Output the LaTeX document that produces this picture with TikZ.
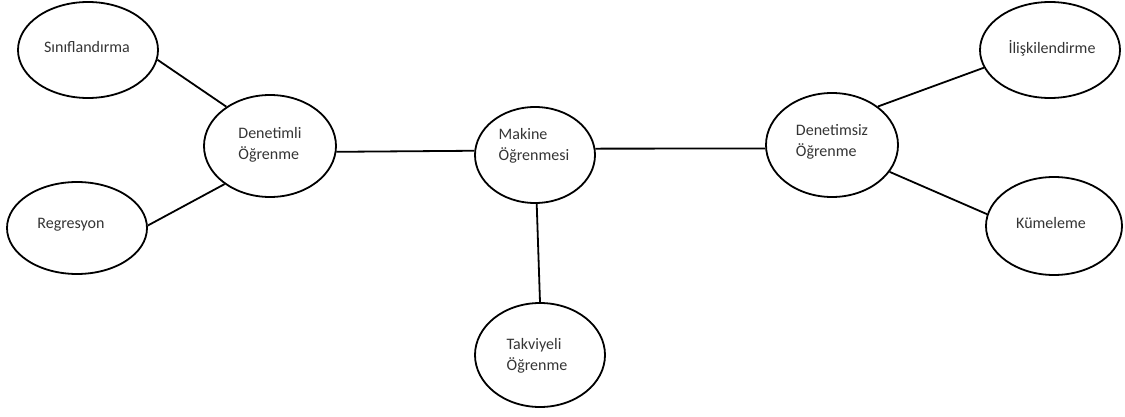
\documentclass[tikz,border=0pt]{standalone}
\usepackage{fontspec}
\setmainfont{Carlito}
\usetikzlibrary{shapes.geometric}
\definecolor{txt}{RGB}{52,52,52}
\begin{document}
\begin{tikzpicture}[x=1pt,y=-1pt,
  bubble/.style={draw=black,line width=1.8pt,ellipse,inner sep=0pt},
  caption/.style={text=txt,align=left,inner sep=0pt,font=\fontsize{16}{21.5}\selectfont},
  link/.style={draw=black,line width=1.8pt}]
\useasboundingbox (0,0) rectangle (1125,417);
% centre of the map
\node[bubble,minimum width=120,minimum height=96] (mak) at (535,155) {};
% three kinds of learning
\node[bubble,minimum width=132,minimum height=102] (den) at (270,146) {};
\node[bubble,minimum width=132,minimum height=104] (dsz) at (832,145) {};
\node[bubble,minimum width=130,minimum height=104] (tak) at (540,355) {};
% tasks under each kind
\node[bubble,minimum width=140,minimum height=96] (sin) at (88,50) {};
\node[bubble,minimum width=140,minimum height=92] (reg) at (77,228) {};
\node[bubble,minimum width=140,minimum height=96] (ili) at (1050,50) {};
\node[bubble,minimum width=136,minimum height=98] (kum) at (1054,226) {};
% texts inside the bubbles
\node[caption] (makt) at (534,146) {Makine\\Öğrenmesi};
\node[caption] (dent) at (270,145) {Denetimli\\Öğrenme};
\node[caption] (dszt) at (832,142) {Denetimsiz\\Öğrenme};
\node[caption] (takt) at (537,356) {Takviyeli\\Öğrenme};
\node[caption] (sint) at (87,47) {Sınıflandırma};
\node[caption] (regt) at (71,225) {Regresyon};
\node[caption] (ilit) at (1052,48) {İlişkilendirme};
\node[caption] (kumt) at (1051,223) {Kümeleme};
% connectors
\draw[link] (den.-5) -- (mak.176);
\draw[link] (mak.6) -- (dsz.183);
\draw[link] (mak.-88) -- (tak.90);
\draw[link] (sin.-8) -- (den.138);
\draw[link] (reg.2) -- (den.220);
\draw[link] (dsz.40) -- (ili.-165);
\draw[link] (dsz.-25) -- (kum.170);
\end{tikzpicture}
\end{document}
